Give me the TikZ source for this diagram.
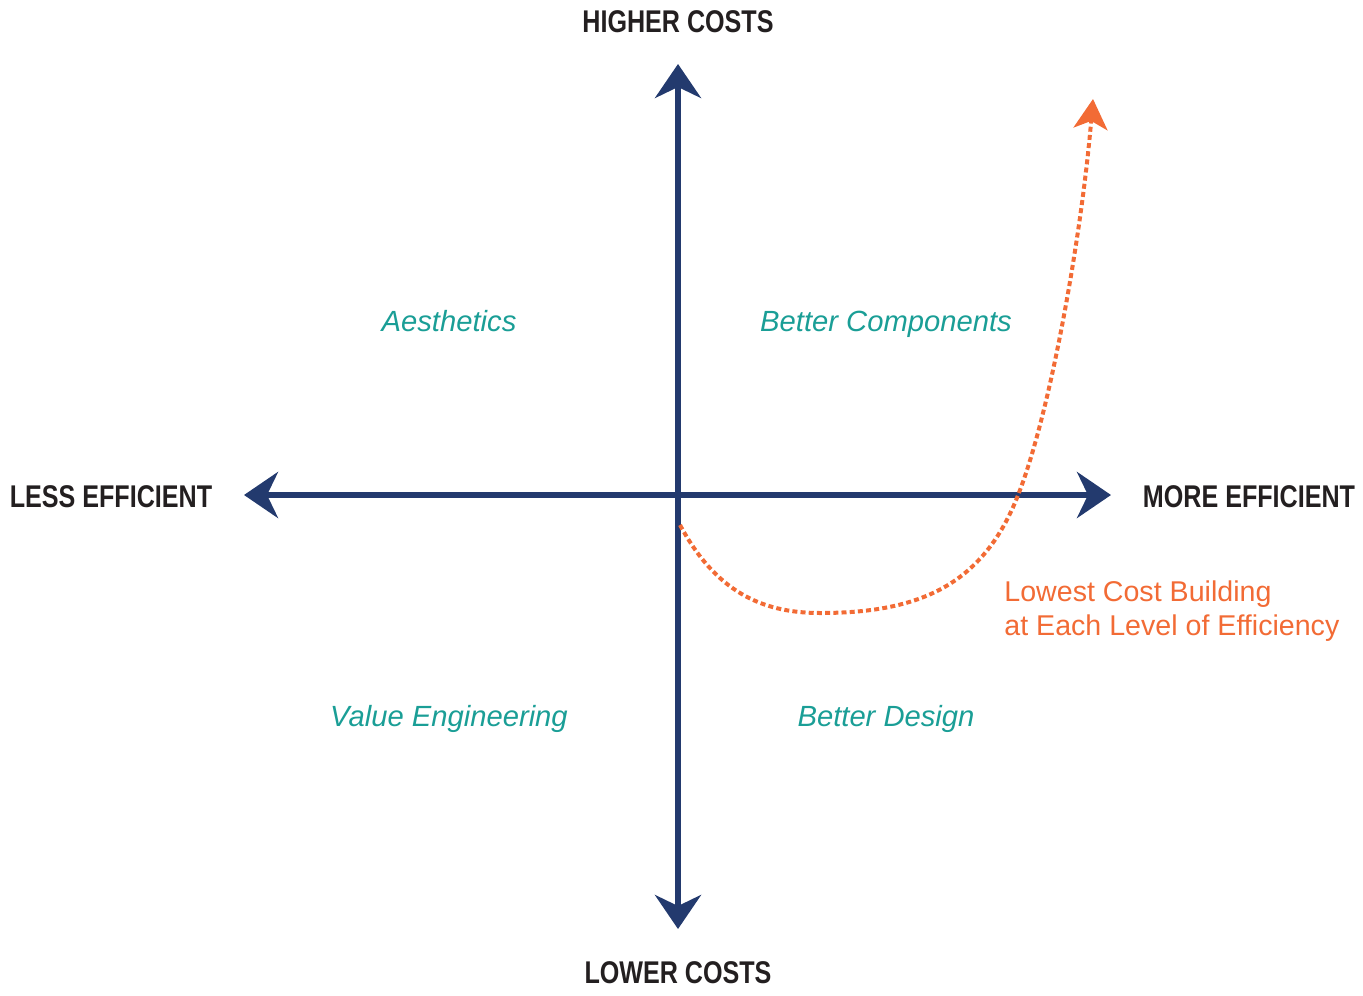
\documentclass[tikz,border=0pt]{standalone}
\usepackage{fontspec}
\setmainfont{Liberation Sans}
\newfontfamily\condfont[FakeStretch=0.8]{Liberation Sans}
\usetikzlibrary{arrows.meta}
\definecolor{navy}{HTML}{233A6E}
\definecolor{tealc}{HTML}{1A9E96}
\definecolor{orangec}{HTML}{F26B35}
\definecolor{inkc}{HTML}{231F20}
\tikzset{
  axis/.style={line width=3pt, draw=navy, {Stealth[length=17pt,width=23pt,inset=5.5pt]}-{Stealth[length=17pt,width=23pt,inset=5.5pt]}},
  axislabel/.style={font=\condfont\bfseries\fontsize{15.7}{18}\selectfont, text=inkc, inner sep=0pt},
  quad/.style={font=\itshape\fontsize{14.6}{17}\selectfont, text=tealc, inner sep=0pt, anchor=base},
  curve/.style={line width=2pt, draw=orangec, dash pattern=on 2.5pt off 1.6pt, -{Stealth[length=15pt,width=17pt,inset=4pt,fill=orangec]}},
  curvelabel/.style={font=\fontsize{14.3}{17}\selectfont, text=orangec, inner sep=0pt, align=left, anchor=base west}
}
\begin{document}
\begin{tikzpicture}[x=0.5pt,y=-0.5pt]
\useasboundingbox (0,0) rectangle (1363,995);
\coordinate (top) at (678,64);
\coordinate (bot) at (678,929);
\coordinate (left) at (244,495);
\coordinate (right) at (1111,495);
\draw[axis] (bot) -- (top);
\draw[axis] (left) -- (right);
\node[axislabel] (hc) at (678,22) {HIGHER COSTS};
\node[axislabel] (lc) at (678,973) {LOWER COSTS};
\node[axislabel] (le) at (111,497) {LESS EFFICIENT};
\node[axislabel] (me) at (1249,497) {MORE EFFICIENT};
\node[quad] (ae) at (449,331) {Aesthetics};
\node[quad] (bc) at (886,331) {Better Components};
\node[quad] (ve) at (449,726) {Value Engineering};
\node[quad] (bd) at (886,726) {Better Design};
\node[curvelabel] (lcb) at (1004,635) {Lowest Cost Building\\at Each Level of Efficiency};
\coordinate (c0) at (680,525);
\coordinate (c1) at (820,613);
\coordinate (c2) at (1020,490);
\coordinate (c3) at (1093,99);
\draw[curve] (c0) .. controls (715,590) and (760,613) .. (c1)
  .. controls (920,613) and (985,585) .. (c2)
  .. controls (1052,405) and (1082,230) .. (c3);
\end{tikzpicture}
\end{document}
